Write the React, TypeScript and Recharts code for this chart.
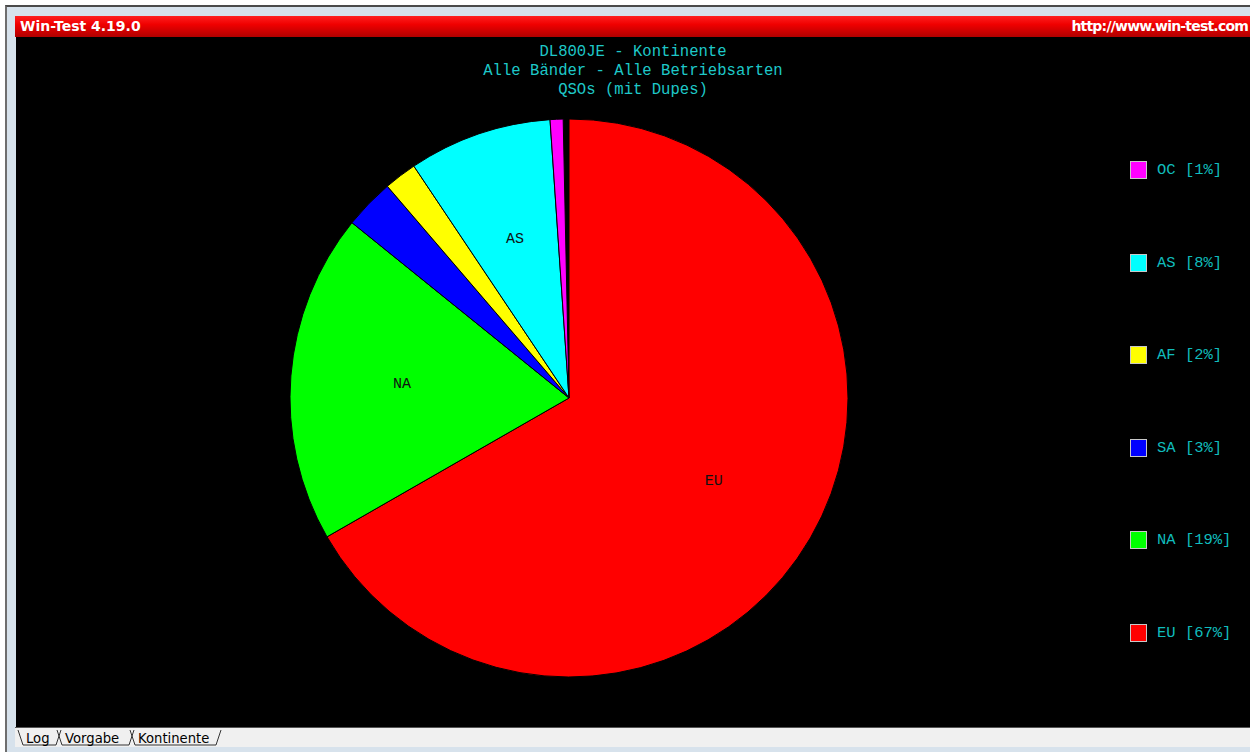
import React from "react";
import { PieChart, Pie, Cell, Legend } from "recharts";

// continents, clockwise from 12 o'clock
const continents = ["EU", "NA", "SA", "AF", "AS", "OC"];
const shares = [66.7, 19.1, 2.9, 1.9, 8.3, 0.75];
const legendPercents = ["67%", "19%", "3%", "2%", "8%", "1%"];
const sliceColors = ["#ff0000", "#00ff00", "#0000ff", "#ffff00", "#00ffff", "#ff00ff"];

const titleLines = ["DL800JE - Kontinente", "Alle Bänder - Alle Betriebsarten", "QSOs (mit Dupes)"];
const tabs = ["Log", "Vorgabe", "Kontinente"];

const data = continents.map((name, i) => ({
  name,
  value: shares[i],
  pct: legendPercents[i],
  color: sliceColors[i],
}));

const MONO = '"Liberation Mono", "DejaVu Sans Mono", monospace';
const RAD = Math.PI / 180;

const renderSliceLabel = (props: any) => {
  const { cx, cy, midAngle, outerRadius, percent, name } = props;
  if (percent < 0.05) return null;
  const r = outerRadius * 0.6;
  const x = cx + r * Math.cos(-midAngle * RAD);
  const y = cy + r * Math.sin(-midAngle * RAD);
  return (
    <text x={x} y={y} fill="#111" fontFamily={MONO} fontSize={15} textAnchor="middle" dominantBaseline="central">
      {name}
    </text>
  );
};

const LegendContent = () => {
  const items = [...data].reverse();
  return (
    <div style={{ position: "relative", width: 120, height: 560 }}>
      {items.map((d, i) => (
        <div key={d.name} style={{ position: "absolute", left: 0, top: i * 92.6, height: 18, display: "flex", alignItems: "center" }}>
          <div style={{ width: 15, height: 16, background: d.color, border: "1px solid #c8c8c8" }} />
          <span style={{ marginLeft: 10, fontFamily: MONO, fontSize: 15.5, color: "#10bcbc", whiteSpace: "pre" }}>
            {`${d.name} [${d.pct}]`}
          </span>
        </div>
      ))}
    </div>
  );
};

const TabStrip = () => {
  let x = 18;
  const parts: React.ReactNode[] = [];
  const widths = [38, 72, 86];
  tabs.forEach((t, i) => {
    const w = widths[i];
    parts.push(
      <g key={t}>
        <polyline points={`${x},2 ${x + 5},17 ${x + w},17 ${x + w + 5},2`} fill="none" stroke="#333" strokeWidth={1} />
        <text x={x + 8} y={14.5} fontFamily='"DejaVu Sans", sans-serif' fontSize={13.2} fill="#000">
          {t}
        </text>
      </g>
    );
    x += w + 1;
  });
  return (
    <svg width={400} height={18} style={{ position: "absolute", left: 0, top: 728 }}>
      {parts}
    </svg>
  );
};

export default function App() {
  return (
    <div style={{ position: "absolute", left: 0, top: 0, width: 1250, height: 752, background: "#ffffff", overflow: "hidden" }}>
      {/* window frame */}
      <div style={{ position: "absolute", left: 5, top: 5, right: 0, bottom: 0, borderLeft: "2px solid #6e6e6e", borderTop: "2px solid #4a4a4a", background: "#d7e2ec" }} />
      {/* title bar */}
      <div
        style={{
          position: "absolute",
          left: 15,
          top: 16,
          width: 1235,
          height: 21,
          background: "linear-gradient(#ff2020 0%, #f00000 40%, #b00000 100%)",
          color: "#fff",
          fontFamily: '"DejaVu Sans", sans-serif',
          fontWeight: "bold",
          fontSize: 14,
          lineHeight: "21px",
        }}
      >
        <span style={{ position: "absolute", left: 5 }}>Win-Test 4.19.0</span>
        <span style={{ position: "absolute", right: 2, letterSpacing: "-0.8px" }}>http://www.win-test.com</span>
      </div>
      {/* tab area */}
      <div style={{ position: "absolute", left: 15, top: 727, width: 1235, height: 19, background: "#f0f0f0", borderTop: "1px solid #555" }} />
      <TabStrip />
      {/* chart area */}
      <div style={{ position: "absolute", left: 16, top: 37, width: 1234, height: 690, background: "#000" }}>
        <div style={{ position: "absolute", left: 0, top: 6, width: 1234, textAlign: "center", fontFamily: MONO, fontSize: 15.6, lineHeight: "19px", color: "#1ec8c8", whiteSpace: "pre" }}>
          {titleLines.map((l) => (
            <div key={l}>{l}</div>
          ))}
        </div>
        <PieChart width={1234} height={690} margin={{ top: 0, right: 0, bottom: 0, left: 0 }} style={{ position: "absolute", left: 0, top: 0 }}>
          <Pie
            data={data}
            dataKey="value"
            nameKey="name"
            cx={553}
            cy={361}
            outerRadius={279}
            startAngle={90}
            endAngle={-268.8}
            stroke="#000"
            strokeWidth={1}
            label={renderSliceLabel}
            labelLine={false}
            isAnimationActive={false}
          >
            {data.map((d) => (
              <Cell key={d.name} fill={d.color} />
            ))}
          </Pie>
          <Legend
            content={<LegendContent />}
            wrapperStyle={{ position: "absolute", left: 1114, top: 124, width: 120, height: 560 }}
          />
        </PieChart>
      </div>
    </div>
  );
}
